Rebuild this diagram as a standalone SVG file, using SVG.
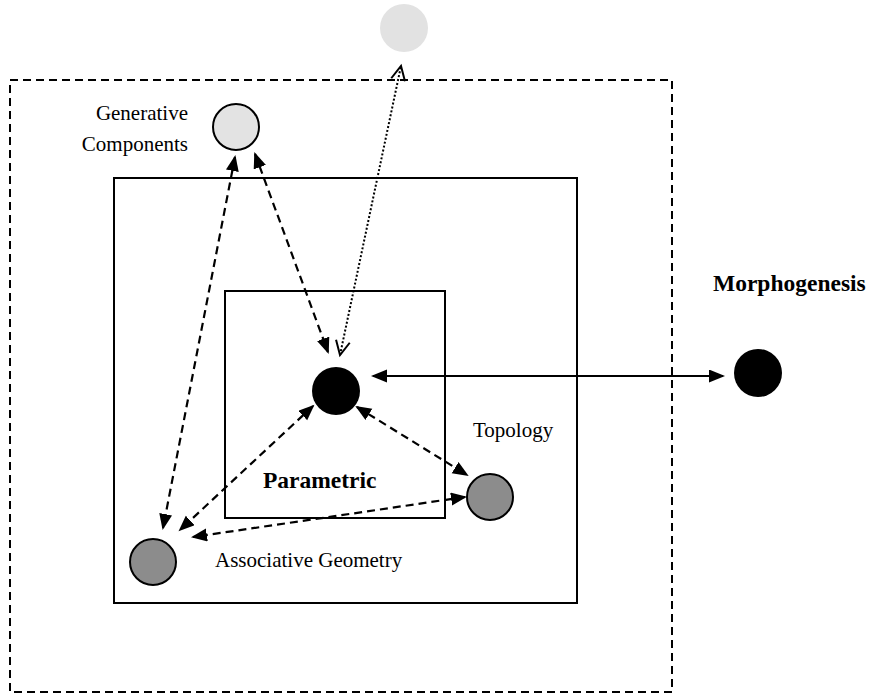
<svg xmlns="http://www.w3.org/2000/svg" width="869" height="697" viewBox="0 0 869 697">
  <style>
    .frame { fill: none; stroke: #000; stroke-width: 2; }
    .dash-frame { fill: none; stroke: #000; stroke-width: 2; stroke-dasharray: 8 5; }
    .link { fill: none; stroke: #000; stroke-width: 2.2; stroke-dasharray: 8 5; marker-start: url(#head); marker-end: url(#head); }
    .solid-link { fill: none; stroke: #000; stroke-width: 2; marker-start: url(#head); marker-end: url(#head); }
    .dotted-link { fill: none; stroke: #000; stroke-width: 2; stroke-dasharray: 2 2; marker-start: url(#open); marker-end: url(#open); }
    .label { font-family: "Liberation Serif", "Times New Roman", serif; font-size: 21px; fill: #000; }
    .title { font-family: "Liberation Serif", "Times New Roman", serif; font-size: 23.5px; font-weight: bold; fill: #000; }
    .node { stroke: #000; stroke-width: 2; }
  </style>
  <defs>
    <marker id="head" markerUnits="userSpaceOnUse" markerWidth="18" markerHeight="14" refX="14" refY="6.5" orient="auto-start-reverse">
      <path d="M0,0 L16,6.5 L0,13 z" fill="#000"/>
    </marker>
    <marker id="open" markerUnits="userSpaceOnUse" markerWidth="18" markerHeight="18" refX="15" refY="8" orient="auto-start-reverse">
      <path d="M1,1 L15,8 L1,15" fill="none" stroke="#000" stroke-width="2"/>
    </marker>
  </defs>

  <!-- nested frames -->
  <rect class="dash-frame" x="10" y="80" width="662" height="612"/>
  <rect class="frame" x="114" y="178" width="463" height="425"/>
  <rect class="frame" x="225" y="291" width="220" height="227"/>

  <!-- connectors -->
  <g id="connectors">
    <line class="link" x1="255" y1="154" x2="328" y2="352"/>
    <line class="link" x1="235" y1="157" x2="163" y2="528"/>
    <line class="link" x1="313" y1="406" x2="180" y2="530"/>
    <line class="link" x1="357" y1="407" x2="467" y2="475"/>
    <line class="link" x1="465" y1="497" x2="193" y2="537"/>
    <line class="solid-link" x1="373" y1="376" x2="723" y2="376"/>
    <line class="dotted-link" x1="340" y1="355" x2="401" y2="66"/>
  </g>

  <!-- nodes -->
  <g id="external">
    <circle cx="404" cy="28" r="24" fill="#e2e2e2"/>
  </g>
  <g id="generative-components">
    <circle class="node" cx="236" cy="127" r="23" fill="#e3e3e3"/>
    <text class="label" x="188" y="120" text-anchor="end">Generative</text>
    <text class="label" x="188" y="151" text-anchor="end">Components</text>
  </g>
  <g id="parametric">
    <circle cx="336" cy="391" r="24" fill="#000"/>
    <text class="title" x="263" y="488">Parametric</text>
  </g>
  <g id="morphogenesis">
    <circle cx="758" cy="373" r="24" fill="#000"/>
    <text class="title" x="713" y="291">Morphogenesis</text>
  </g>
  <g id="topology">
    <circle class="node" cx="490" cy="497" r="23" fill="#8c8c8c"/>
    <text class="label" x="473" y="437">Topology</text>
  </g>
  <g id="associative-geometry">
    <circle class="node" cx="153" cy="562" r="23" fill="#8c8c8c"/>
    <text class="label" x="215" y="567">Associative Geometry</text>
  </g>
</svg>
